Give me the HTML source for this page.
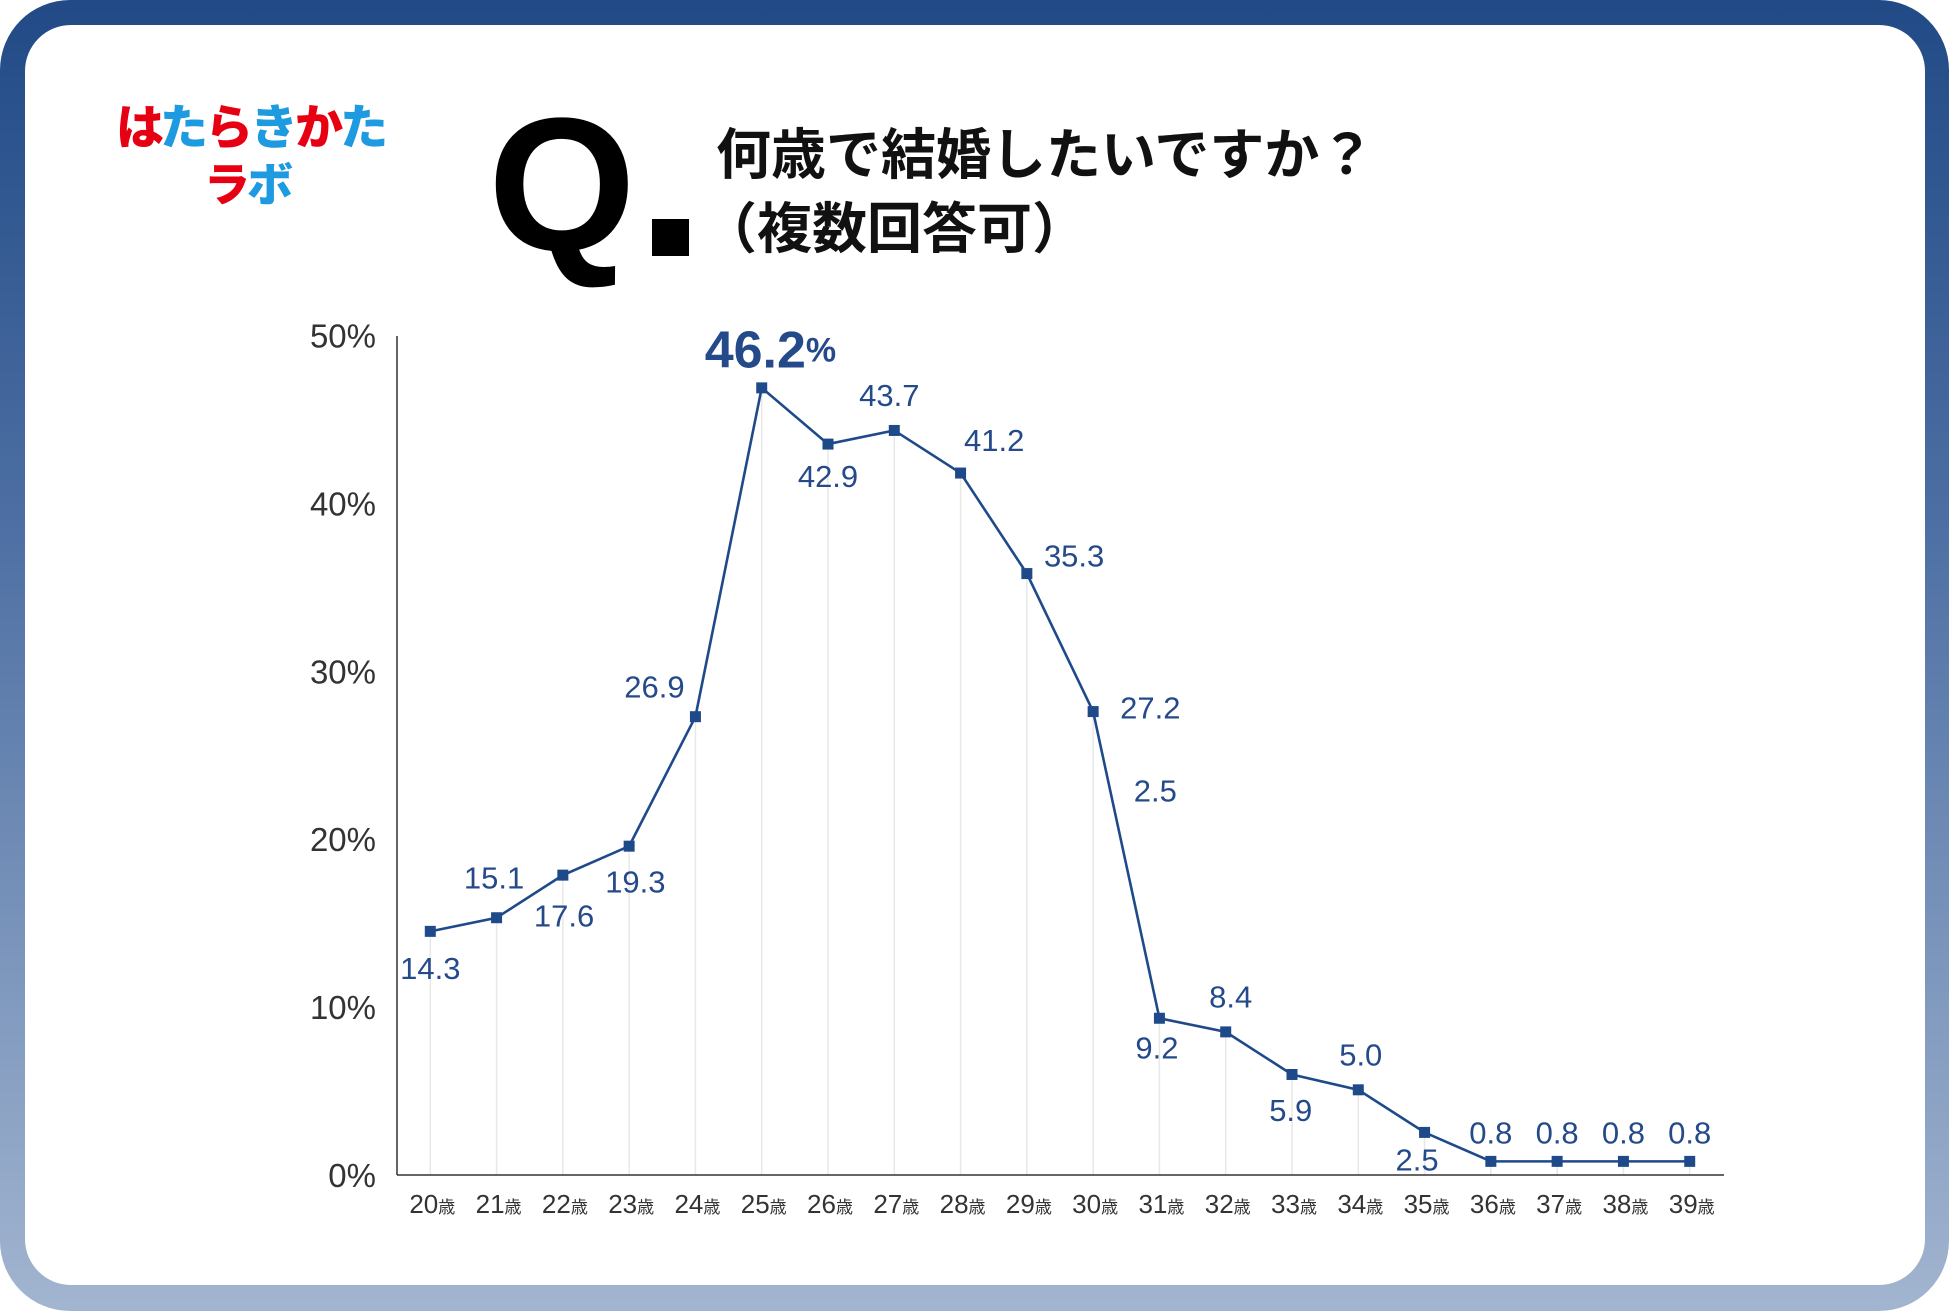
<!DOCTYPE html>
<html><head><meta charset="utf-8">
<style>
html,body{margin:0;padding:0;}
body{width:1950px;height:1312px;position:relative;overflow:hidden;font-family:"Liberation Sans","Noto Sans CJK JP",sans-serif;background:#fff;}
#frame{position:absolute;left:0;top:0;width:1949px;height:1311px;border-radius:70px;
background:linear-gradient(180deg,#214a86 0%,#4d6fa3 40%,#a2b5d0 100%);}
#card{position:absolute;left:25px;top:25px;width:1900px;height:1260px;background:#fff;border-radius:46px;}
.logo{position:absolute;font-weight:900;font-family:"Noto Sans CJK JP",sans-serif;letter-spacing:-3px;}
.r{color:#e60012}.b{color:#1d9ae0}
</style></head><body>
<div id="frame"></div>
<div id="card"></div>
<div class="logo" style="left:116px;top:96px;font-size:48px;line-height:54px;">
<span class="r">は</span><span class="b">た</span><span class="r">ら</span><span class="b">き</span><span class="r">か</span><span class="b">た</span></div>
<div class="logo" style="left:204px;top:156px;font-size:46px;line-height:52px;">
<span class="r">ラ</span><span class="b">ボ</span></div>
<div style="position:absolute;left:488px;top:80px;font-size:190px;font-weight:900;line-height:210px;color:#000;font-family:'Liberation Sans',sans-serif;">Q</div>
<div style="position:absolute;left:652px;top:219px;width:37px;height:37px;background:#000;"></div>
<div style="position:absolute;left:716px;top:118px;font-size:55px;font-weight:700;line-height:74px;color:#111;font-family:'Liberation Sans','Noto Sans CJK JP',sans-serif;">何歳で結婚したいですか？<br><span style="margin-left:-14px">（複数回答可）</span></div>

<svg id="chart" width="1950" height="1312" style="position:absolute;left:0;top:0"></svg>
<script>
const categories=["20","21","22","23","24","25","26","27","28","29","30","31","32","33","34","35","36","37","38","39"];
const values=[14.3,15.1,17.6,19.3,26.9,46.2,42.9,43.7,41.2,35.3,27.2,9.2,8.4,5.9,5.0,2.5,0.8,0.8,0.8,0.8];
const valueLabels=["14.3","15.1","17.6","19.3","26.9","46.2","42.9","43.7","41.2","35.3","27.2","9.2","8.4","5.9","5.0","2.5","0.8","0.8","0.8","0.8"];
const yTicks=[0,10,20,30,40,50];
const yTickLabels=["0%","10%","20%","30%","40%","50%"];
// label offsets (layout only)
const offX=[0,-2,1,5,-33,7,0,-4,27,38,46,-2,4,-1,2,-6,0,0,0,0];
const offY=[30,-32,33,29,-24,-30,26,-28,-26,-14,-3,24,-28,29,-28,22,-23,-23,-23,-23];
const S=1950/1568;
const NS="http://www.w3.org/2000/svg";
const svg=document.getElementById('chart');
const x0=397,xEnd=1724,yBase=1175;
function xScale(i){return (346+i*53.3)*S;}
function yScale(v){return yBase-v*13.7*S;}
function mk(tag,attrs){const e=document.createElementNS(NS,tag);for(const k in attrs)e.setAttribute(k,attrs[k]);svg.appendChild(e);return e;}
categories.forEach((c,i)=>{
  const l=mk('line',{x1:xScale(i),x2:xScale(i),y1:yScale(values[i]),y2:yBase,stroke:'#e8e8e8','stroke-width':1.5});
  
  
});
const ya=mk('line',{x1:x0,x2:x0,y1:336,y2:yBase,stroke:'#333','stroke-width':1.5});


const xa=mk('line',{x1:x0,x2:xEnd,y1:yBase,y2:yBase,stroke:'#333','stroke-width':1.5});


yTicks.forEach((t,i)=>{
  const tx=mk('text',{x:376,y:yBase-t*13.5*S+12,'text-anchor':'end','font-size':33,fill:'#333','font-family':'Liberation Sans, sans-serif'});
  tx.textContent=yTickLabels[i];
  
  
});
categories.forEach((c,i)=>{
  const tx=mk('text',{x:xScale(i)+2,y:1213,'text-anchor':'middle','font-size':26,fill:'#333','font-family':'Liberation Sans, Noto Sans CJK JP, sans-serif'});
  tx.innerHTML=c+'<tspan font-size="17">歳</tspan>';
  
  
});
const pts=values.map((v,i)=>xScale(i)+','+yScale(v)).join(' ');
const pl=mk('polyline',{points:pts,fill:'none',stroke:'#1f4a8a','stroke-width':2.6});


values.forEach((v,i)=>{
  const m=mk('rect',{x:xScale(i)-5.5,y:yScale(v)-5.5,width:11,height:11,fill:'#1f4a8a'});
  
  
  const big=i===5;
  const tx=mk('text',{x:xScale(i)+offX[i]*S,y:yScale(v)+offY[i]*S,'text-anchor':'middle','dominant-baseline':'central','font-size':big?52:31,'font-weight':big?700:400,fill:'#254a8a','font-family':'Liberation Sans, sans-serif'});
  tx.innerHTML=big?valueLabels[i]+'<tspan font-size="34">%</tspan>':valueLabels[i];
  
  
});
const stray=mk('text',{x:929*S,y:636*S,'text-anchor':'middle','dominant-baseline':'central','font-size':31,fill:'#254a8a','font-family':'Liberation Sans, sans-serif'});
stray.textContent='2.5';


</script>
</body></html>
